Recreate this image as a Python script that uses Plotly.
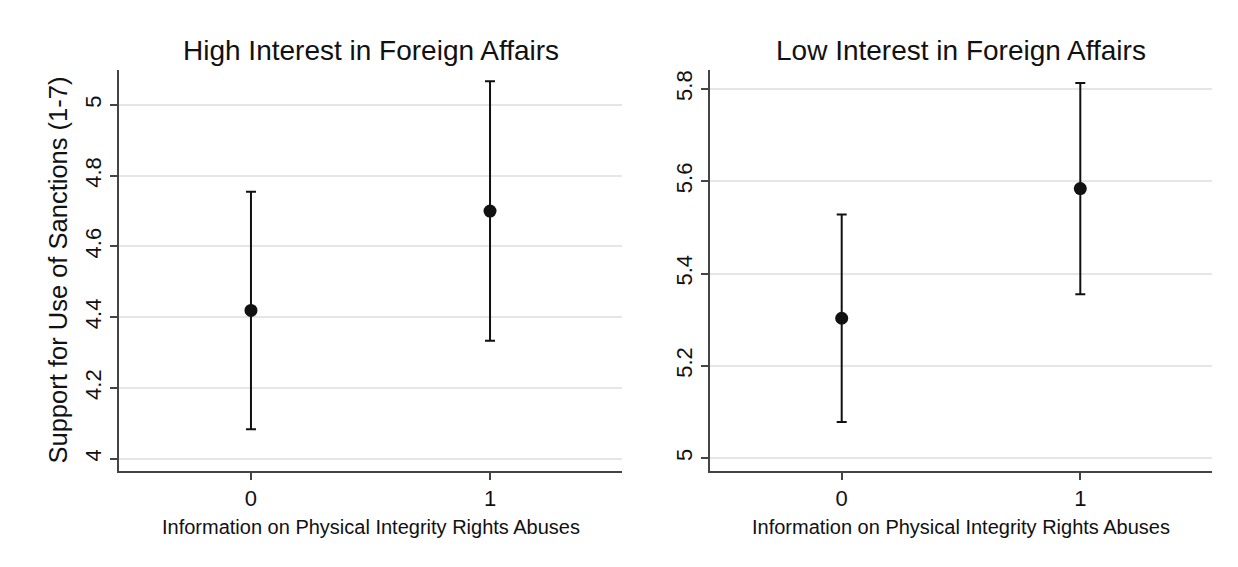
import plotly.graph_objects as go

# Predicted support for sanctions by treatment, split by interest in foreign affairs
treatment = [0, 1]

high_mean = [4.419, 4.700]
high_lower = [4.083, 4.333]
high_upper = [4.755, 5.067]

low_mean = [5.303, 5.584]
low_lower = [5.078, 5.355]
low_upper = [5.528, 5.813]

high_ticks = [4, 4.2, 4.4, 4.6, 4.8, 5]
high_tick_text = ["4", "4.2", "4.4", "4.6", "4.8", "5"]
low_ticks = [5, 5.2, 5.4, 5.6, 5.8]
low_tick_text = ["5", "5.2", "5.4", "5.6", "5.8"]

panel_titles = ["High Interest in Foreign Affairs", "Low Interest in Foreign Affairs"]
x_title = "Information on Physical Integrity Rights Abuses"
y_title = "Support for Use of Sanctions (1-7)"

W, H = 1238, 567
FONT = "Liberation Sans, Arial, sans-serif"
INK = "#111111"


def px_x(p):
    return p / W


def px_y(p):
    return 1 - p / H


fig = go.Figure()


def add_panel(mean, lower, upper, xa, ya):
    fig.add_trace(go.Scatter(
        x=treatment, y=mean, mode="markers",
        marker=dict(color=INK, size=13),
        error_y=dict(type="data", symmetric=False,
                     array=[u - m for u, m in zip(upper, mean)],
                     arrayminus=[m - l for m, l in zip(mean, lower)],
                     color=INK, thickness=2, width=5),
        xaxis=xa, yaxis=ya, showlegend=False, hoverinfo="skip"))


add_panel(high_mean, high_lower, high_upper, "x", "y")
add_panel(low_mean, low_lower, low_upper, "x2", "y2")

y_dom = [px_y(471), px_y(70)]
common_x = dict(range=[-0.552, 1.552], tickvals=treatment, ticktext=["0", "1"],
                ticks="outside", ticklen=7, tickwidth=1.5, tickcolor="#444",
                showline=True, linecolor="#444", linewidth=1.5, showgrid=False,
                zeroline=False, tickfont=dict(family=FONT, size=22, color=INK),
                fixedrange=True)
common_y = dict(ticks="outside", ticklen=7, tickwidth=1.5, tickcolor="#444",
                showline=True, linecolor="#444", linewidth=1.5, showgrid=True,
                gridcolor="#e6e6e6", gridwidth=1.5, zeroline=False, tickangle=-90,
                tickfont=dict(family=FONT, size=22, color=INK), fixedrange=True)

fig.update_layout(
    width=W, height=H,
    margin=dict(l=0, r=0, t=0, b=0),
    paper_bgcolor="white", plot_bgcolor="white",
    xaxis=dict(domain=[px_x(119), px_x(622)], anchor="y", **common_x),
    xaxis2=dict(domain=[px_x(710), px_x(1212)], anchor="y2", **common_x),
    yaxis=dict(domain=y_dom, anchor="x", range=[3.965, 5.099],
               tickvals=high_ticks, ticktext=high_tick_text, **common_y),
    yaxis2=dict(domain=y_dom, anchor="x2", range=[4.972, 5.841],
                tickvals=low_ticks, ticktext=low_tick_text, **common_y),
)

# Panel titles
for title, cx in zip(panel_titles, [370.5, 961]):
    fig.add_annotation(text=title, x=px_x(cx), y=px_y(50), xref="paper", yref="paper",
                       showarrow=False, xanchor="center", yanchor="middle",
                       font=dict(family=FONT, size=28, color=INK))

# Shared x-axis titles
for cx in [370.5, 961]:
    fig.add_annotation(text=x_title, x=px_x(cx), y=px_y(527), xref="paper", yref="paper",
                       showarrow=False, xanchor="center", yanchor="middle",
                       font=dict(family=FONT, size=20, color=INK))

# Common y-axis title
fig.add_annotation(text=y_title, x=px_x(57), y=px_y(270.5), xref="paper", yref="paper",
                   showarrow=False, textangle=-90, xanchor="center", yanchor="middle",
                   font=dict(family=FONT, size=25.5, color=INK))

fig.write_html("out.html")
